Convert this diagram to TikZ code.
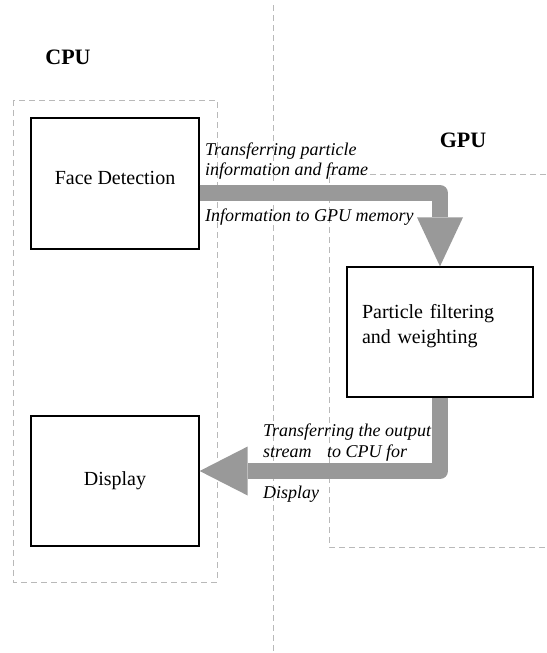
\documentclass[tikz,border=0pt]{standalone}
\usepackage{fontspec}
\setmainfont{Liberation Serif}
\usetikzlibrary{arrows.meta}
\definecolor{flowgray}{RGB}{153,153,153}
\definecolor{zonegray}{RGB}{185,185,185}
\begin{document}
\begin{tikzpicture}[x=1pt,y=-1pt,
  zone/.style={draw=zonegray, line width=0.8pt, dash pattern=on 6pt off 4pt},
  unit/.style={draw=black, line width=1.3pt, rectangle, inner sep=0pt,
    font=\fontsize{20}{25}\selectfont},
  side/.style={font=\fontsize{22}{26}\selectfont\bfseries, inner sep=0pt},
  lbl/.style={font=\fontsize{18}{21}\selectfont\itshape, inner sep=0pt, anchor=base west},
  flow/.style={draw=flowgray, line width=16pt, line join=round, line cap=butt},
]
\useasboundingbox (0,0) rectangle (546,653);

% processor regions
\draw[zone] (13,100) rectangle (217,582);
\draw[zone] (273,5) -- (273,653);
\draw[zone] (546,174) -- (329,174) -- (329,547) -- (546,547);

\node[side] (cpu) at (68,57) {CPU};
\node[side] (gpu) at (463,140) {GPU};

% processing stages
\node[unit, minimum width=168pt, minimum height=131pt, text depth=11.5pt] (face) at (115,183.5) {Face Detection};
\node[unit, minimum width=168pt, minimum height=130pt] (disp) at (115,481) {Display};
\node[unit, minimum width=186pt, minimum height=130pt, align=left,
      text width=156pt] (pf) at (440,332)
      {Particle filtering\\and weighting\rule[-16.7pt]{0pt}{0pt}};

% data transfers
\draw[flow, -{Triangle[length=49pt 0 0, width=46pt 0 0, line width=0pt 0 0]}, flowgray]
  ([yshift=-9.5pt]face.east) -| (pf.north);
\draw[flow, -{Triangle[length=48pt 0 0, width=49pt 0 0, line width=0pt 0 0]}, flowgray]
  (pf.south) |- ([yshift=10pt]disp.east);

% transfer labels
\node[lbl] (up1) at (205,155) {Transferring particle};
\node[lbl] (up2) at (205,175) {information and frame};
\node[lbl] (up3) at (205,221) {Information to GPU memory};
\node[lbl] (dn1) at (263,436) {Transferring the output};
\node[lbl] (dn2) at (263,457) {stream\hspace{11pt} to CPU for};
\node[lbl] (dn3) at (263,498) {Display};
\end{tikzpicture}
\end{document}
